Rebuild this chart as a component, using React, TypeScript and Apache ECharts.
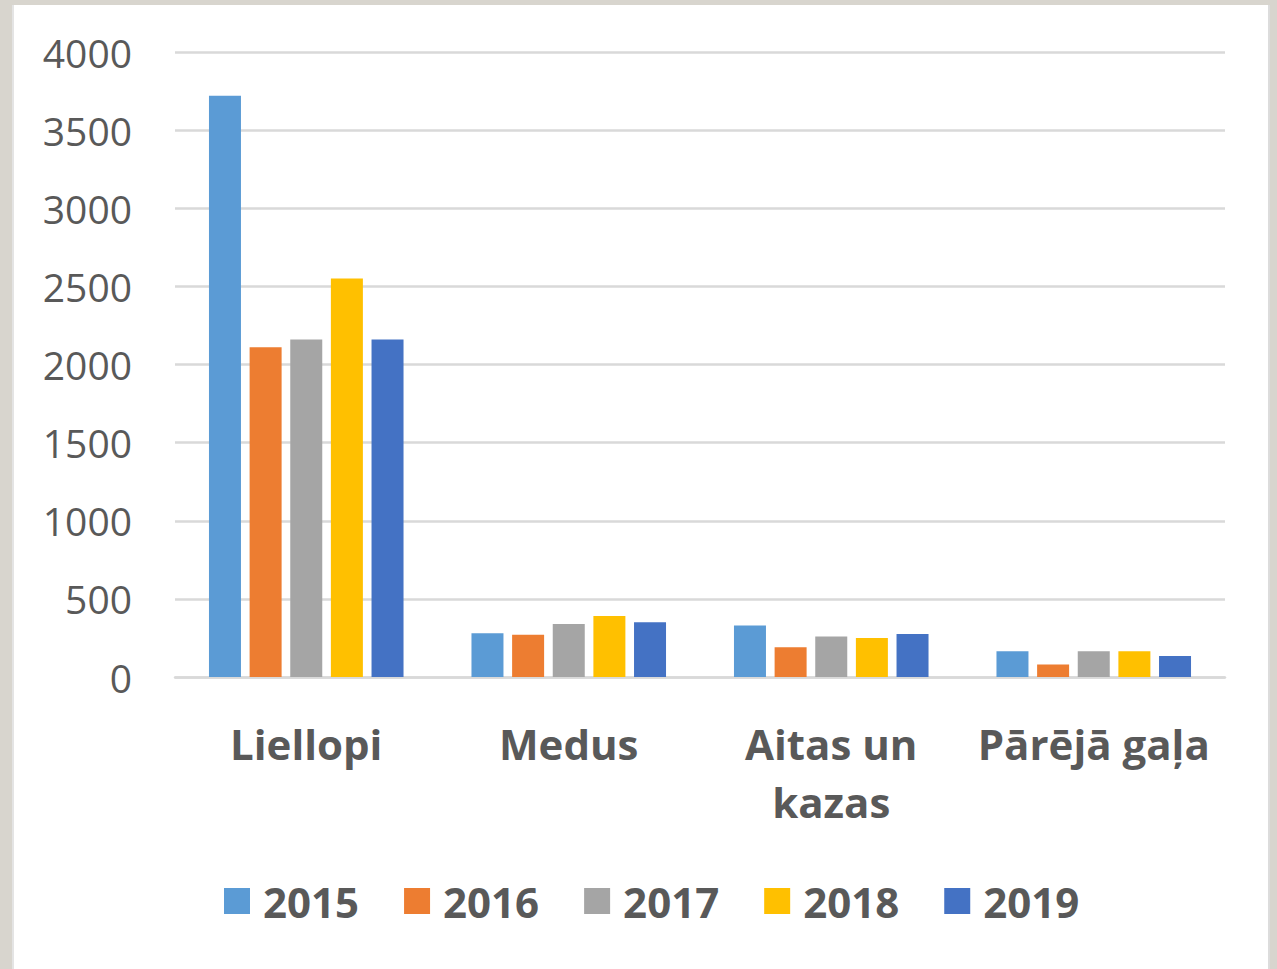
import React, { useEffect, useRef } from "react";
import * as echarts from "echarts";

const categories = ["Liellopi", "Medus", "Aitas un kazas", "Pārējā gaļa"];
const years = ["2015", "2016", "2017", "2018", "2019"];
const values2015 = [3720, 280, 330, 165];
const values2016 = [2110, 270, 190, 80];
const values2017 = [2160, 340, 260, 165];
const values2018 = [2550, 390, 250, 165];
const values2019 = [2160, 350, 275, 135];
const seriesValues = [values2015, values2016, values2017, values2018, values2019];
const colors = ["#5b9bd5", "#ed7d31", "#a5a5a5", "#ffc000", "#4472c4"];
const yTicks = [0, 500, 1000, 1500, 2000, 2500, 3000, 3500, 4000];

export default function App() {
  const ref = useRef<HTMLDivElement>(null);
  useEffect(() => {
    if (!ref.current) return;
    const chart = echarts.init(ref.current, undefined, { renderer: "svg" });
    chart.setOption({
      animation: false,
      grid: { left: 175, right: 52, top: 52, bottom: 292, containLabel: false },
      legend: {
        left: 224,
        top: 880,
        padding: 0,
        itemWidth: 26,
        itemHeight: 26,
        itemGap: 45,
        icon: "rect",
        data: years,
        textStyle: {
          fontFamily: "Open Sans",
          fontWeight: "bold",
          fontSize: 42,
          color: "#595959",
          padding: [0, 0, 0, 8],
        },
      },
      xAxis: {
        type: "category",
        data: categories,
        axisTick: { show: false },
        axisLine: { lineStyle: { color: "#d9d9d9", width: 2.5 } },
        axisLabel: {
          interval: 0,
          margin: 37,
          fontFamily: "Open Sans",
          fontWeight: "bold",
          fontSize: 42,
          lineHeight: 58,
          color: "#595959",
          formatter: (v: string) => v.replace(" un ", " un\n"),
        },
      },
      yAxis: {
        type: "value",
        min: yTicks[0],
        max: yTicks[yTicks.length - 1],
        interval: 500,
        axisLine: { show: false },
        axisTick: { show: false },
        splitLine: { lineStyle: { color: "#d9d9d9", width: 2.5 } },
        axisLabel: {
          margin: 43,
          fontFamily: "Open Sans",
          fontSize: 39,
          color: "#595959",
          formatter: (v: number) => String(v),
        },
      },
      series: years.map((y, i) => ({
        name: y,
        type: "bar",
        data: seriesValues[i],
        barWidth: 32,
        barGap: "27%",
        itemStyle: { color: colors[i] },
      })),
    });
    return () => chart.dispose();
  }, []);

  return (
    <div style={{ position: "fixed", left: 0, top: 0, width: 1277, height: 969, background: "#d8d5ce" }}>
      <div
        style={{
          position: "absolute",
          left: 12,
          top: 5,
          width: 1258,
          height: 964,
          background: "#ffffff",
          borderLeft: "2px solid #e4e4e4",
          borderRight: "2px solid #dcdcdc",
          boxSizing: "border-box",
        }}
      />
      <div ref={ref} style={{ position: "absolute", left: 0, top: 0, width: 1277, height: 969 }} />
    </div>
  );
}
